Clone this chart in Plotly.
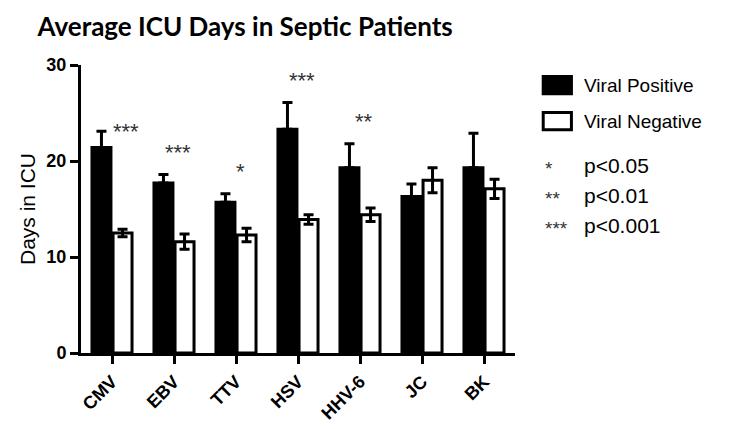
import plotly.graph_objects as go

viruses = ["CMV", "EBV", "TTV", "HSV", "HHV-6", "JC", "BK"]
positive_mean = [21.4, 17.7, 15.7, 23.3, 19.3, 16.3, 19.3]
positive_err = [1.7, 0.9, 0.9, 2.8, 2.5, 1.3, 3.6]
negative_mean = [12.5, 11.6, 12.3, 13.9, 14.4, 18.0, 17.1]
negative_err = [0.4, 0.8, 0.7, 0.5, 0.7, 1.3, 1.0]
significance = ["***", "***", "*", "***", "**", "", ""]
key_stars = ["*", "**", "***"]
key_labels = ["p<0.05", "p<0.01", "p<0.001"]

FONT = "Liberation Sans, Arial"

fig = go.Figure()

fig.add_trace(
    go.Bar(
        x=viruses,
        y=positive_mean,
        name="Viral Positive",
        marker=dict(color="black", line=dict(color="black", width=3)),
        error_y=dict(
            type="data", array=positive_err, arrayminus=[0] * 7, symmetric=False,
            color="black", thickness=3, width=5,
        ),
        showlegend=False,
    )
)
fig.add_trace(
    go.Bar(
        x=viruses,
        y=negative_mean,
        name="Viral Negative",
        marker=dict(color="white", line=dict(color="black", width=3)),
        error_y=dict(
            type="data", array=negative_err, color="black", thickness=3, width=5,
        ),
        showlegend=False,
    )
)

# significance stars above each pair
for i, s in enumerate(significance):
    if not s:
        continue
    fig.add_annotation(
        x=i, y=positive_mean[i] + positive_err[i] + 2.3, xref="x", yref="y",
        text=s, showarrow=False, yanchor="middle",
        xshift=4 if i else 14, yshift=0 if i else -22,
        font=dict(family=FONT, size=22, color="#333"),
    )

# legend swatches and key
fig.add_shape(type="rect", xref="paper", yref="paper", x0=1.065, x1=1.13, y0=0.96, y1=0.90,
              fillcolor="black", line=dict(color="black", width=3))
fig.add_shape(type="rect", xref="paper", yref="paper", x0=1.065, x1=1.13, y0=0.835, y1=0.775,
              fillcolor="white", line=dict(color="black", width=3))
for label, yy in zip(["Viral Positive", "Viral Negative"], [0.93, 0.805]):
    fig.add_annotation(x=1.155, y=yy, xref="paper", yref="paper", text=label, showarrow=False,
                       xanchor="left", yanchor="middle",
                       font=dict(family=FONT, size=19, color="black"))
for k, (st, lab) in enumerate(zip(key_stars, key_labels)):
    yy = 0.65 - k * 0.104
    fig.add_annotation(x=1.065, y=yy - 0.01, xref="paper", yref="paper", text=st, showarrow=False,
                       xanchor="left", yanchor="middle",
                       font=dict(family=FONT, size=19, color="#333"))
    fig.add_annotation(x=1.155, y=yy, xref="paper", yref="paper", text=lab, showarrow=False,
                       xanchor="left", yanchor="middle",
                       font=dict(family=FONT, size=21, color="black"))

fig.update_layout(
    width=737,
    height=429,
    barmode="group",
    bargap=0.32,
    bargroupgap=0.1,
    plot_bgcolor="white",
    paper_bgcolor="white",
    margin=dict(l=73, r=230, t=57, b=84, autoexpand=False),
    title=dict(
        text="<b>Average ICU Days in Septic Patients</b>",
        x=0.04, xanchor="left", y=0.955, yanchor="middle",
        font=dict(family="Lato", size=26, color="black"),
    ),
    xaxis=dict(
        range=[-0.5, 6.5],
        automargin=False,
        showline=True, linecolor="black", linewidth=3,
        ticks="outside", ticklen=8, tickwidth=3, tickcolor="black",
        tickangle=-45,
        tickfont=dict(family=FONT, size=18, color="black", weight="bold"),
    ),
    yaxis=dict(
        range=[0, 30],
        automargin=False,
        tickvals=[0, 10, 20, 30],
        showline=True, linecolor="black", linewidth=3,
        ticks="outside", ticklen=8, tickwidth=3, tickcolor="black",
        showgrid=False, zeroline=False,
        tickfont=dict(family=FONT, size=18, color="black", weight="bold"),
        title=dict(text="Days in ICU", standoff=6,
                   font=dict(family=FONT, size=21, color="black")),
    ),
)

fig.write_html("out.html")
